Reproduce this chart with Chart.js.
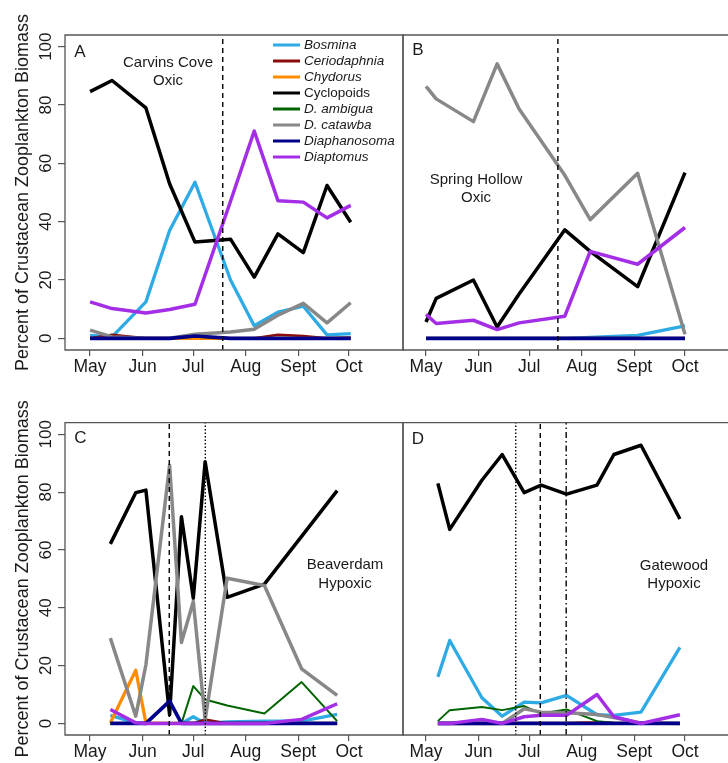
<!DOCTYPE html>
<html>
<head>
<meta charset="utf-8">
<script src="https://cdn.jsdelivr.net/npm/chart.js@4.4.1/dist/chart.umd.min.js"></script>
<style>
  html, body { margin: 0; padding: 0; background: #fff; }
  #wrap { position: relative; width: 728px; height: 763px; overflow: hidden; }
  canvas { position: absolute; }
</style>
</head>
<body>
<div id="wrap">
  <canvas id="panelA" width="405" height="380" style="left:0;top:0"></canvas>
  <canvas id="panelB" width="326" height="380" style="left:402px;top:0"></canvas>
  <canvas id="panelC" width="405" height="376" style="left:0;top:387px"></canvas>
  <canvas id="panelD" width="326" height="376" style="left:402px;top:387px"></canvas>
</div>
<script>
// x axis: day of year, ticks on the first of each month
const monthLabels = ['May', 'Jun', 'Jul', 'Aug', 'Sept', 'Oct'];
const monthDays = [121, 152, 182, 213, 244, 274];
const yTicks = [0, 20, 40, 60, 80, 100];

const taxa = ['Bosmina', 'Ceriodaphnia', 'Chydorus', 'Cyclopoids', 'D. ambigua', 'D. catawba', 'Diaphanosoma', 'Diaptomus'];
const taxaItalic = [true, true, true, false, true, true, true, true];

// A - Carvins Cove (oxic)
const carvinsDays = [121, 134, 154, 168, 183, 204, 218, 232, 247, 261, 275];
const carvinsBosmina = [1, 0.5, 12.5, 37, 53.5, 20, 4.3, 9, 11, 1.2, 1.6];
const carvinsCeriodaphnia = [0, 1.2, 0, 0, 0, 0, 0, 1.2, 0.8, 0, 0.3];
const carvinsChydorus = [0, 0, 0, 0, 0, 0, 0, 0, 0, 0, 0];
const carvinsCyclopoids = [84.6, 88.4, 79, 53, 33, 34, 21, 35.8, 29.4, 52.4, 39.8];
const carvinsAmbigua = [0, 0, 0, 0, 0.5, 0, 0, 0, 0, 0, 0];
const carvinsCatawba = [2.8, 0.5, 0, 0, 1.4, 2.2, 3.1, 7.9, 12, 5.3, 12.2];
const carvinsDiaphanosoma = [0, 0, 0, 0, 0.8, 0, 0, 0, 0, 0, 0];
const carvinsDiaptomus = [12.5, 10.2, 8.7, 9.9, 11.7, 47, 71.1, 47.2, 46.7, 41.3, 45.6];
const carvinsMarkers = [199.4];

// B - Spring Hollow (oxic)
const springDays = [121, 127, 149, 163, 176, 203, 218, 246, 274];
const springBosmina = [0, 0, 0, 0, 0, 0, 0.3, 1, 4.3];
const springCeriodaphnia = [0, 0, 0, 0, 0, 0, 0, 0, 0];
const springChydorus = [0, 0, 0, 0, 0, 0, 0, 0, 0];
const springCyclopoids = [5.6, 13.7, 20, 3.9, 15.2, 37.2, 29.8, 17.7, 56.8];
const springAmbigua = [0, 0, 0, 0, 0, 0, 0, 0, 0];
const springCatawba = [86.4, 82.1, 74.3, 94.1, 78.6, 55.9, 40.7, 56.6, 1.4];
const springDiaphanosoma = [0, 0, 0, 0, 0, 0, 0, 0, 0];
const springDiaptomus = [8.2, 5.1, 6.2, 3, 5.3, 7.6, 29.8, 25.4, 38];
const springMarkers = [198.9];

// C - Beaverdam (hypoxic)
const beaverDays = [133, 148, 154, 168, 175, 182, 189, 202, 224, 246, 267];
const beaverBosmina = [2.8, 0.2, 0, 0, 0, 2.3, 0, 0.5, 0.8, 0.8, 3.1];
const beaverCeriodaphnia = [0, 0, 0, 0, 0, 0, 1.4, 0, 0, 0, 0];
const beaverChydorus = [0.2, 18.4, 0.2, 0, 0, 0, 0, 0, 0, 0, 0];
const beaverCyclopoids = [62.1, 79.8, 80.7, 3, 71.5, 43.3, 90.5, 43.6, 48.2, 64.7, 80.5];
const beaverAmbigua = [0, 0, 0, 0, 0, 12.9, 8.3, 6.2, 3.4, 14.3, 0.8];
const beaverCatawba = [29.5, 2.5, 20.3, 89.3, 28, 42.2, 1.4, 50.2, 47.7, 18.9, 9.7];
const beaverDiaphanosoma = [0, 0, 0, 7.7, 0, 0, 0, 0, 0, 0, 0];
const beaverDiaptomus = [4.8, 0.2, 0, 0, 0, 0, 0, 0, 0, 1.4, 6.8];
const beaverMarkers = [167.8, 189.1];

// D - Gatewood (hypoxic)
const gateDays = [128, 135, 154, 166, 179, 189, 204, 222, 232, 248, 271];
const gateBosmina = [16.1, 28.7, 8.9, 2.5, 7.4, 7.1, 9.7, 3, 2.8, 3.9, 26.3];
const gateCeriodaphnia = [0, 0, 0, 0, 0, 0, 0, 0.5, 0, 0, 0];
const gateChydorus = [0, 0, 0, 0, 0, 0, 0, 0.3, 0, 0, 0];
const gateCyclopoids = [83, 67.1, 84.1, 93, 79.8, 82.4, 79.3, 82.4, 93, 96.2, 70.7];
const gateAmbigua = [0.8, 4.6, 5.7, 4.6, 6, 3.4, 4.8, 0.8, 0.2, 0, 0];
const gateCatawba = [0, 0, 0, 0, 5.1, 3.9, 3.7, 3.1, 2, 0.2, 0];
const gateDiaphanosoma = [0, 0, 0, 0, 0, 0, 0, 0, 0, 0, 0];
const gateDiaptomus = [0, 0, 1.4, 0, 2.3, 2.8, 2.8, 10, 2.3, 0, 3];
const gateMarkers = [174, 188.5, 203.8];

// styles
const taxaColors = ['#2eaae4', '#8b0a0a', '#ff8c00', '#000000', '#006400', '#888888', '#00008b', '#a42ee6'];
const taxaWidths = [3.3, 2.5, 3.3, 3.5, 2, 3.5, 3.7, 3.5];
const FONT = "'Liberation Sans', Arial, sans-serif";
Chart.defaults.font.family = FONT;
Chart.defaults.color = '#1a1a1a';

// frame round the plotting region, like R's box()
const boxPlugin = {
  id: 'box',
  afterDraw(chart, args, opts) {
    const { ctx, chartArea: a } = chart;
    ctx.save();
    ctx.strokeStyle = '#555';
    ctx.lineWidth = 1.3;
    ctx.beginPath();
    if (opts.right) {
      ctx.moveTo(a.right, a.top); ctx.lineTo(a.right, a.bottom);
    }
    ctx.moveTo(a.right + 1, a.top); ctx.lineTo(a.left, a.top);
    ctx.lineTo(a.left, a.bottom); ctx.lineTo(a.right + 1, a.bottom);
    ctx.stroke();
    ctx.restore();
  }
};

// panel letter and site names
const notesPlugin = {
  id: 'notes',
  afterDraw(chart, args, opts) {
    const { ctx, chartArea: a } = chart;
    ctx.save();
    ctx.fillStyle = '#1a1a1a';
    ctx.textBaseline = 'middle';
    (opts.items || []).forEach(t => {
      ctx.font = t.size + 'px ' + FONT;
      ctx.textAlign = t.align || 'center';
      ctx.fillText(t.text, a.left + t.dx, a.top + t.dy);
    });
    ctx.restore();
  }
};

// legend drawn inside panel A
const legendPlugin = {
  id: 'taxaLegend',
  afterDraw(chart, args, opts) {
    if (!opts.show) return;
    const { ctx, chartArea: a } = chart;
    ctx.save();
    ctx.textBaseline = 'middle';
    ctx.textAlign = 'left';
    taxa.forEach((name, i) => {
      const y = a.top + 10 + i * 16;
      ctx.strokeStyle = taxaColors[i];
      ctx.lineWidth = 3;
      ctx.beginPath();
      ctx.moveTo(a.left + 208, y);
      ctx.lineTo(a.left + 235, y);
      ctx.stroke();
      ctx.fillStyle = '#1a1a1a';
      ctx.font = (taxaItalic[i] ? 'italic ' : '') + '13.5px ' + FONT;
      ctx.fillText(name, a.left + 239, y + 0.5);
    });
    ctx.restore();
  }
};

const markerDash = [[5, 4], [1.5, 2], [6, 3, 1.5, 3]];

function makePanel(id, o) {
  const series = [o.bosmina, o.ceriodaphnia, o.chydorus, o.cyclopoids, o.ambigua, o.catawba, o.diaphanosoma, o.diaptomus];
  const datasets = series.map((vals, i) => ({
    label: taxa[i],
    data: o.days.map((d, k) => ({ x: d, y: vals[k] })),
    borderColor: taxaColors[i],
    borderWidth: taxaWidths[i],
    pointRadius: 0,
    tension: 0,
    fill: false,
    borderJoinStyle: 'round',
    order: taxa.length - i + 1
  }));
  o.markers.forEach((d, j) => {
    datasets.push({
      label: 'marker' + j,
      data: [{ x: d, y: -4 }, { x: d, y: 104 }],
      borderColor: '#000',
      borderWidth: 1.4,
      borderDash: o.dashes[j],
      pointRadius: 0,
      fill: false,
      order: 0
    });
  });

  const showY = o.yAxis;
  new Chart(document.getElementById(id), {
    type: 'line',
    data: { datasets },
    options: {
      responsive: false,
      animation: false,
      events: [],
      layout: { padding: { top: o.top, left: showY ? 0 : 1, right: showY ? 2 : 0, bottom: 0 } },
      plugins: {
        legend: { display: false },
        tooltip: { enabled: false },
        box: { right: showY },
        notes: { items: o.notes },
        taxaLegend: { show: !!o.legend }
      },
      scales: {
        x: {
          type: 'linear',
          min: o.xmin,
          max: o.xmax,
          afterBuildTicks: s => { s.ticks = monthDays.map(v => ({ value: v })); },
          afterFit: s => { s.height = o.xHeight; },
          border: { display: false },
          grid: { drawOnChartArea: false, drawTicks: true, tickLength: 6, color: '#555', lineWidth: 1.2 },
          ticks: {
            autoSkip: false, minRotation: 0, maxRotation: 0, padding: 1,
            font: { size: 17.5 }, color: '#1a1a1a',
            callback: v => monthLabels[monthDays.indexOf(v)] || ''
          }
        },
        y: {
          type: 'linear',
          display: showY,
          min: -4,
          max: 104,
          afterBuildTicks: s => { s.ticks = yTicks.map(v => ({ value: v })); },
          afterFit: s => { if (showY) s.width = 65; },
          border: { display: false },
          grid: { drawOnChartArea: false, drawTicks: true, tickLength: 7, color: '#555', lineWidth: 1.2 },
          ticks: {
            minRotation: 90, maxRotation: 90, crossAlign: 'center', padding: -2,
            font: { size: 17 }, color: '#1a1a1a'
          },
          title: {
            display: true,
            text: 'Percent of Crustacean Zooplankton Biomass',
            font: { size: 18 },
            color: '#1a1a1a',
            padding: { top: 12, bottom: 0 }
          }
        }
      }
    },
    plugins: [boxPlugin, notesPlugin, legendPlugin]
  });
}

makePanel('panelA', {
  days: carvinsDays, bosmina: carvinsBosmina, ceriodaphnia: carvinsCeriodaphnia, chydorus: carvinsChydorus,
  cyclopoids: carvinsCyclopoids, ambigua: carvinsAmbigua, catawba: carvinsCatawba,
  diaphanosoma: carvinsDiaphanosoma, diaptomus: carvinsDiaptomus,
  markers: carvinsMarkers, dashes: [markerDash[0]],
  yAxis: true, legend: true, top: 35, xHeight: 30, xmin: 106.2, xmax: 305.9,
  notes: [
    { text: 'A', dx: 15, dy: 17.5, size: 17 },
    { text: 'Carvins Cove', dx: 103, dy: 28, size: 15 },
    { text: 'Oxic', dx: 103, dy: 46, size: 15 }
  ]
});

makePanel('panelB', {
  days: springDays, bosmina: springBosmina, ceriodaphnia: springCeriodaphnia, chydorus: springChydorus,
  cyclopoids: springCyclopoids, ambigua: springAmbigua, catawba: springCatawba,
  diaphanosoma: springDiaphanosoma, diaptomus: springDiaptomus,
  markers: springMarkers, dashes: [markerDash[0]],
  yAxis: false, top: 35, xHeight: 30, xmin: 107.4, xmax: 299.4,
  notes: [
    { text: 'B', dx: 15, dy: 15, size: 17 },
    { text: 'Spring Hollow', dx: 73, dy: 145, size: 15 },
    { text: 'Oxic', dx: 73, dy: 163, size: 15 }
  ]
});

makePanel('panelC', {
  days: beaverDays, bosmina: beaverBosmina, ceriodaphnia: beaverCeriodaphnia, chydorus: beaverChydorus,
  cyclopoids: beaverCyclopoids, ambigua: beaverAmbigua, catawba: beaverCatawba,
  diaphanosoma: beaverDiaphanosoma, diaptomus: beaverDiaptomus,
  markers: beaverMarkers, dashes: [markerDash[0], markerDash[1]],
  yAxis: true, top: 35.7, xHeight: 28, xmin: 106.2, xmax: 305.9,
  notes: [
    { text: 'C', dx: 15.5, dy: 15.5, size: 17 },
    { text: 'Beaverdam', dx: 280, dy: 142.5, size: 15 },
    { text: 'Hypoxic', dx: 280, dy: 161.5, size: 15 }
  ]
});

makePanel('panelD', {
  days: gateDays, bosmina: gateBosmina, ceriodaphnia: gateCeriodaphnia, chydorus: gateChydorus,
  cyclopoids: gateCyclopoids, ambigua: gateAmbigua, catawba: gateCatawba,
  diaphanosoma: gateDiaphanosoma, diaptomus: gateDiaptomus,
  markers: gateMarkers, dashes: [markerDash[1], markerDash[0], markerDash[2]],
  yAxis: false, top: 35.7, xHeight: 28, xmin: 107.4, xmax: 299.4,
  notes: [
    { text: 'D', dx: 15, dy: 16.5, size: 17 },
    { text: 'Gatewood', dx: 271, dy: 143.5, size: 15 },
    { text: 'Hypoxic', dx: 271, dy: 161.5, size: 15 }
  ]
});
</script>
</body>
</html>
